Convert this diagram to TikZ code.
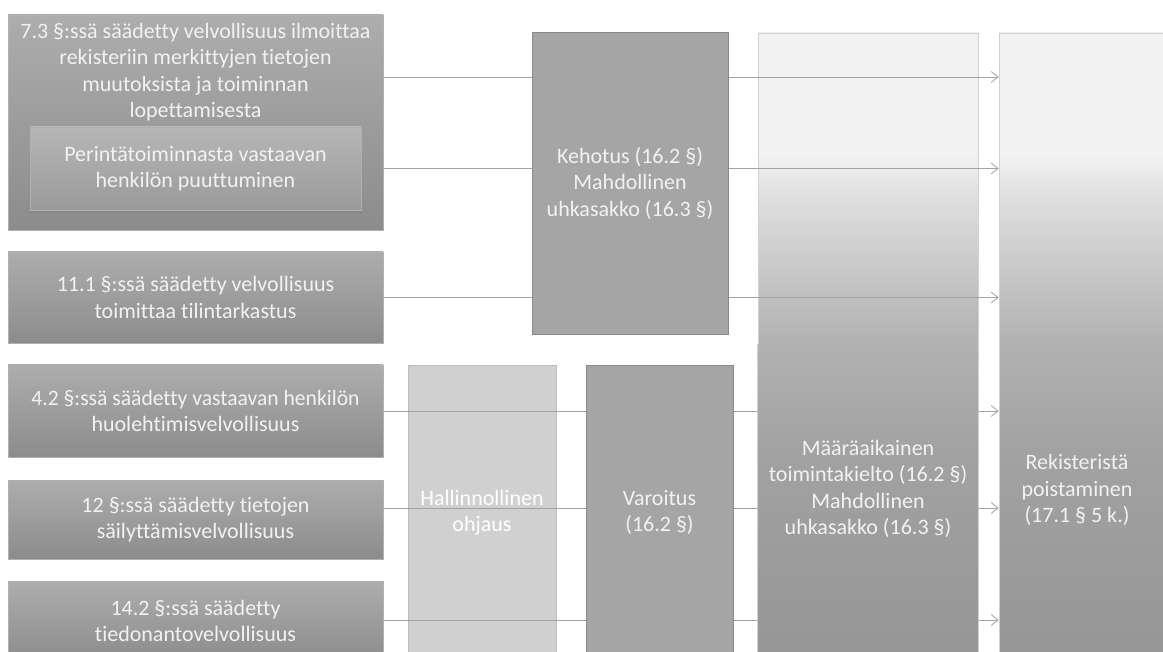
\documentclass[tikz,border=0pt]{standalone}
\usepackage{fontspec}
\setmainfont{Carlito}[Ligatures=NoCommon]
\usetikzlibrary{arrows.meta,shadows}
\definecolor{lgtop}{HTML}{ADADAD}
\definecolor{lgbot}{HTML}{8C8C8C}
\definecolor{lgedge}{HTML}{B0B0B0}
\definecolor{igtop}{HTML}{B6B6B6}
\definecolor{igbot}{HTML}{9A9A9A}
\definecolor{txtc}{HTML}{F2F2F2}
\definecolor{kfill}{HTML}{A5A5A5}
\definecolor{kedge}{HTML}{8A8A8A}
\definecolor{hfill}{HTML}{D0D0D0}
\definecolor{hedge}{HTML}{BDBDBD}
\definecolor{medge}{HTML}{D0D0D0}
\definecolor{lncol}{HTML}{A3A3A3}
\definecolor{g0}{HTML}{969696}
\definecolor{g1}{HTML}{A2A2A2}
\definecolor{g2}{HTML}{B2B2B2}
\definecolor{g3}{HTML}{C8C8C8}
\definecolor{g4}{HTML}{DEDEDE}
\definecolor{g5}{HTML}{F2F2F2}
\pgfdeclareverticalshading{mshade}{100bp}{color(0bp)=(g0); color(25bp)=(g0); color(41.7bp)=(g1); color(50.5bp)=(g2); color(56.1bp)=(g3); color(61.7bp)=(g4); color(65.3bp)=(g5); color(75bp)=(g5); color(100bp)=(g5)}
\newcommand{\squeezeto}[2]{\resizebox{#1}{\height}{#2}}
\tikzset{
  fnt/.style={font=\fontsize{22}{26.5}\selectfont},
  lbox/.style={rectangle, inner sep=0pt, top color=lgtop, bottom color=lgbot, draw=lgedge, line width=0.6pt, text=txtc, align=center, fnt},
  ibox/.style={rectangle, inner sep=0pt, top color=igtop, bottom color=igbot, draw=lgedge, line width=0.6pt, text=txtc, align=center, fnt, drop shadow={shadow xshift=1pt, shadow yshift=-4pt, opacity=0.45}},
  kbox/.style={rectangle, inner sep=0pt, fill=kfill, draw=kedge, line width=0.6pt, text=txtc, align=center, fnt},
  hbox/.style={rectangle, inner sep=0pt, fill=hfill, draw=hedge, line width=0.6pt, text=white, align=center, fnt},
  mbox/.style={rectangle, inner sep=0pt, shade, shading=mshade, draw=medge, line width=0.6pt},
  ttext/.style={text=txtc, align=center, fnt, inner sep=0pt},
  conn/.style={draw=lncol, line width=0.9pt, -{Straight Barb[length=7pt,width=11pt,line width=0.8pt]}}
}
\begin{document}
\begin{tikzpicture}[x=1pt,y=-1pt]
\useasboundingbox (0,0) rectangle (1163,652);
\clip (0,0) rectangle (1163,652);
\fill[white] (0,0) rectangle (1163,652);
% left column
\node[lbox, minimum width=375pt, minimum height=215pt] (b1) at (195.5,122.5) {};
\node[ttext] (b1t) at (195.5,72) {\squeezeto{350pt}{7.3 §:ssä säädetty velvollisuus ilmoittaa}\\rekisteriin merkittyjen tietojen\\muutoksista ja toiminnan\\lopettamisesta};
\node[ibox, minimum width=331pt, minimum height=83pt] (b1i) at (195.5,168.5) {Perintätoiminnasta vastaavan\\henkilön puuttuminen};
\node[lbox, minimum width=375pt, minimum height=91pt] (b2) at (195.5,297.5) {11.1 §:ssä säädetty velvollisuus\\toimittaa tilintarkastus};
\node[lbox, minimum width=375pt, minimum height=92pt] (b3) at (195.5,411) {\squeezeto{328pt}{4.2 §:ssä säädetty vastaavan henkilön}\\huolehtimisvelvollisuus};
\node[lbox, minimum width=375pt, minimum height=79pt] (b4) at (195.5,519.5) {12 §:ssä säädetty tietojen\\säilyttämisvelvollisuus};
\node[lbox, minimum width=375pt, minimum height=80pt] (b5) at (195.5,621) {14.2 §:ssä säädetty\\tiedonantovelvollisuus};
% middle / right boxes under connectors
\node[hbox, minimum width=148pt, minimum height=295pt] (hal) at (482,512.5) {Hallinnollinen\\ohjaus};
\node[mbox, minimum width=220pt, minimum height=627pt] (maa) at (868,346.5) {};
\node[mbox, minimum width=181pt, minimum height=627pt] (rek) at (1089.5,346.5) {};
% connectors
\draw[conn] (b1.east |- 0,77) -- (rek.west |- 0,77);
\draw[conn] (b1i.east -| b1.east) -- (b1i.east -| rek.west);
\draw[conn] (b2.east) -- (b2.east -| rek.west);
\draw[conn] (b3.east) -- (b3.east -| rek.west);
\draw[conn] (b4.east |- 0,508) -- (rek.west |- 0,508);
\draw[conn] (b5.east |- 0,620) -- (rek.west |- 0,620);
% boxes over connectors
\node[kbox, minimum width=196pt, minimum height=302pt] (keh) at (630,183) {Kehotus (16.2 §)\\Mahdollinen\\uhkasakko (16.3 §)};
\node[kbox, minimum width=147pt, minimum height=295pt] (var) at (659.5,512.5) {Varoitus\\(16.2 §)};
\begin{scope}
\clip (755,345) rectangle (981,660);
\shade[shading=mshade, draw=medge, line width=0.6pt] (maa.north west) rectangle (maa.south east);
\end{scope}
\node[ttext] (maat) at (868,489) {Määräaikainen\\toimintakielto (16.2 §)\\Mahdollinen\\uhkasakko (16.3 §)};
\node[ttext] (rekt) at (1077,490) {Rekisteristä\\poistaminen\\(17.1 § 5 k.)};
\end{tikzpicture}
\end{document}
